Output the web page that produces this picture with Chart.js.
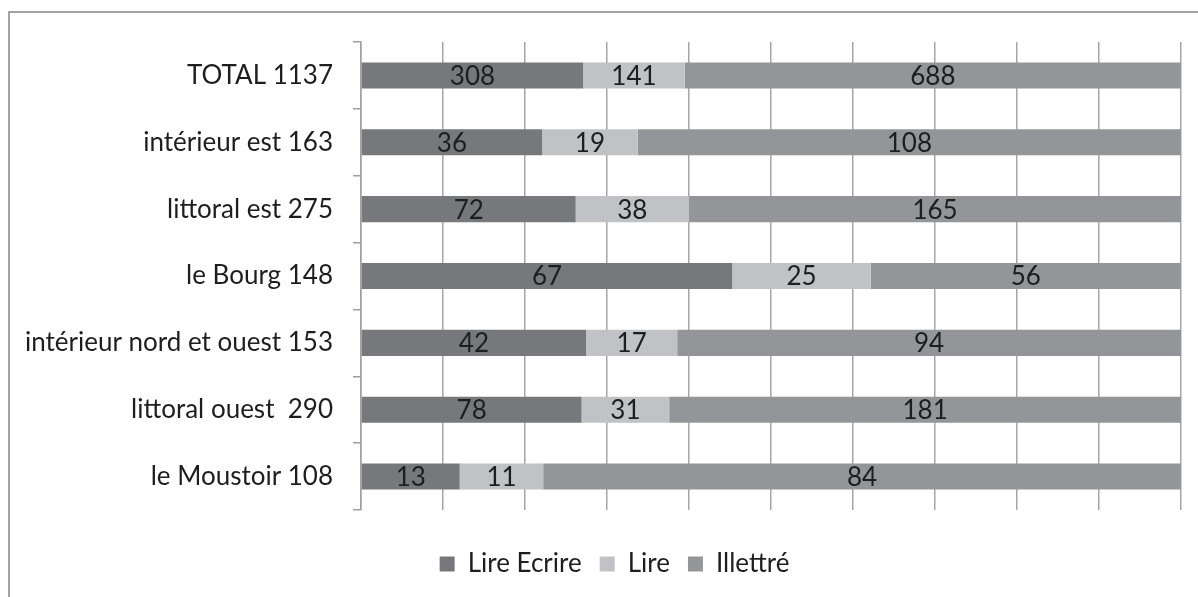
<!DOCTYPE html>
<html>
<head>
<meta charset="utf-8">
<script src="https://cdn.jsdelivr.net/npm/chart.js@4/dist/chart.umd.min.js"></script>
<style>
  body { margin: 0; background: #fff; overflow: hidden; }
  #wrap { position: relative; width: 1198px; height: 597px; }
  #frame { position: absolute; left: 8px; top: 11px; width: 1300px; height: 700px; border: 2px solid #a3a3a3; box-sizing: border-box; }
  canvas { position: absolute; left: 0; top: 0; }
</style>
</head>
<body>
<div id="wrap">
  <div id="frame"></div>
  <canvas id="chart" width="1198" height="597"></canvas>
</div>
<script>
// Rows, top to bottom
const categories = [
  'TOTAL 1137',
  'intérieur est 163',
  'littoral est 275',
  'le Bourg 148',
  'intérieur nord et ouest 153',
  'littoral ouest  290',
  'le Moustoir 108'
];

// Counts per row
const lireEcrire = [308, 36, 72, 67, 42, 78, 13];
const lire       = [141, 19, 38, 25, 17, 31, 11];
const illettre   = [688, 108, 165, 56, 94, 181, 84];

const seriesNames = ['Lire Ecrire', 'Lire', 'Illettré'];
const seriesColors = ['#77787b', '#c1c2c5', '#939598'];

const FONT = 'Lato';
const FSIZE = 26;
const TEXT = '#1e1e1e';

const counts = [lireEcrire, lire, illettre];
const totals = categories.map((_, i) => counts.reduce((s, arr) => s + arr[i], 0));
// 100% stacked: convert each count to its share of the row
const shares = counts.map(arr => arr.map((v, i) => v / totals[i] * 100));

const valueLabels = {
  id: 'valueLabels',
  afterDatasetsDraw(chart) {
    const ctx = chart.ctx;
    ctx.save();
    ctx.font = FSIZE + 'px ' + FONT;
    ctx.fillStyle = TEXT;
    ctx.textAlign = 'center';
    ctx.textBaseline = 'middle';
    chart.data.datasets.forEach((ds, di) => {
      const meta = chart.getDatasetMeta(di);
      meta.data.forEach((bar, i) => {
        const p = bar.getProps(['x', 'y', 'base'], true);
        ctx.fillText(String(counts[di][i]), (p.x + p.base) / 2, p.y + 1);
      });
    });
    ctx.restore();
  }
};

// the frame runs past the right edge, so the legend sits right of centre
const legendShift = {
  id: 'legendShift',
  afterLayout(chart) {
    chart.legend.left += 24;
    chart.legend.right += 24;
  }
};

new Chart(document.getElementById('chart'), {
  type: 'bar',
  data: {
    labels: categories,
    datasets: seriesNames.map((name, k) => ({
      label: name,
      data: shares[k],
      backgroundColor: seriesColors[k],
      borderWidth: 0,
      barPercentage: 0.39,
      categoryPercentage: 1
    }))
  },
  options: {
    indexAxis: 'y',
    responsive: false,
    animation: false,
    devicePixelRatio: 1,
    layout: { padding: { left: 0, right: 17, top: 42, bottom: 10 } },
    scales: {
      x: {
        stacked: true,
        min: 0,
        max: 100,
        ticks: { display: false, stepSize: 10 },
        grid: { color: '#a6a6a6', lineWidth: 1.5, drawTicks: false },
        border: { display: false },
        afterFit(scale) { scale.height = 23; }
      },
      y: {
        stacked: true,
        ticks: { color: TEXT, font: { family: FONT, size: FSIZE }, padding: 20 },
        grid: { drawOnChartArea: false, color: '#a0a0a0', lineWidth: 1.5, tickLength: 8, offset: true },
        border: { display: true, color: '#a0a0a0', width: 1.5 },
        afterFit(scale) { scale.width = 361; }
      }
    },
    plugins: {
      legend: {
        position: 'bottom',
        labels: {
          color: TEXT,
          font: { family: FONT, size: FSIZE },
          boxWidth: 15,
          boxHeight: 15,
          padding: 18
        }
      },
      tooltip: { enabled: false }
    }
  },
  plugins: [valueLabels, legendShift]
});
</script>
</body>
</html>
